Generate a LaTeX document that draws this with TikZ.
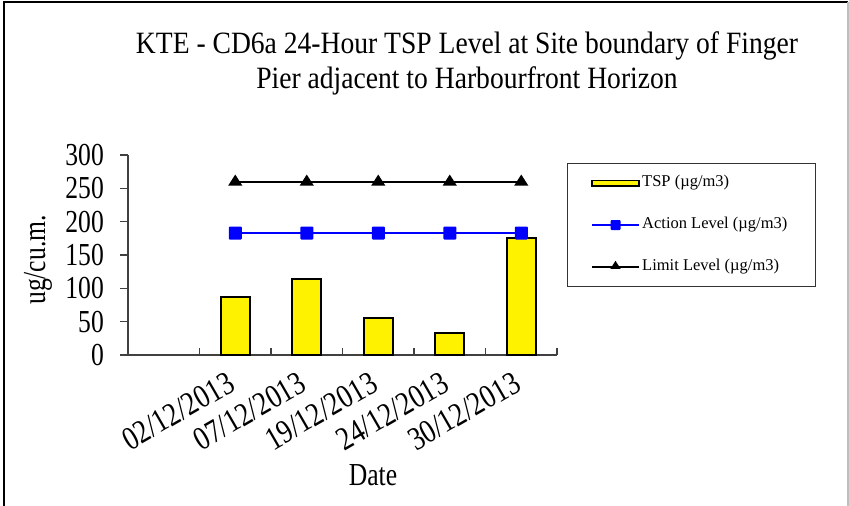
\documentclass[tikz,border=0pt]{standalone}
\usepackage{fontspec}
\usetikzlibrary{shapes.geometric}
\setmainfont{Liberation Serif}
\newfontfamily\cfont{Liberation Serif}[FakeStretch=0.8]
\newfontfamily\dfont{Liberation Serif}[FakeStretch=0.82]
\newfontfamily\tfont{Liberation Serif}[FakeStretch=0.89]
\begin{document}
\begin{tikzpicture}[x=1pt,y=-1pt,
  axisline/.style={draw=black!75,line width=1.3pt},
  bar/.style={draw=black,line width=2pt,fill=yellow},
  limline/.style={draw=black,line width=2pt},
  actline/.style={draw=blue,line width=2pt},
  sqmark/.style={fill=blue,minimum size=13pt,inner sep=0pt,rounded corners=1pt},
  trimark/.style={fill=black,isosceles triangle,isosceles triangle apex angle=65,shape border rotate=90,minimum height=11pt,inner sep=0pt},
  ticklab/.style={font=\cfont\fontsize{32}{32}\selectfont,anchor=east,inner sep=0pt},
  datelab/.style={font=\dfont\fontsize{33}{33}\selectfont,anchor=north east,rotate=30,inner sep=1pt},
  legtext/.style={font=\fontsize{16.5}{17}\selectfont,anchor=west,inner sep=0pt},
]
\useasboundingbox (0,0) rectangle (849,506);
\fill[white] (0,0) rectangle (849,506);
% frame
\draw[black,line width=2pt] (4,506) -- (4,2) -- (848,2);
\draw[black!25,line width=1.5pt] (848,2) -- (848,506);
% title
\node[font=\tfont\fontsize{31}{35}\selectfont,align=center] (title) at (467,63)
  {KTE - CD6a 24-Hour TSP Level at Site boundary of Finger\\Pier adjacent to Harbourfront Horizon};
% y axis
\coordinate (ytop) at (128,155);
\coordinate (orig) at (128,355);
\coordinate (xend) at (557,355);
\coordinate (xstart) at (120,355);
\draw[axisline] (ytop) -- (orig);
\draw[axisline] (xstart) -- (xend);
\foreach \v in {0,50,...,300}{
  \draw[axisline] (120,{355-\v*2/3}) -- (128,{355-\v*2/3});
  \node[ticklab] (yl\v) at (104,{355-\v*2/3}) {\v};
}
\foreach \k in {1,...,6}{
  \draw[axisline] ({128+71.5*\k},355) -- ({128+71.5*\k},348);
}
\node[font=\cfont\fontsize{32}{32}\selectfont,rotate=90] (ylab) at (38,260) {ug/cu.m.};
% bars
\foreach \i/\v in {1/87,2/114,3/55,4/33,5/176}{
  \draw[bar] ({128+71.5*(\i+0.5)-14.5},355) rectangle ({128+71.5*(\i+0.5)+14.5},{355-\v*2/3});
}
% limit & action levels
\foreach \i in {1,...,5}{
  \coordinate (lc\i) at ({128+71.5*(\i+0.5)},{355-260*2/3});
  \coordinate (ac\i) at ({128+71.5*(\i+0.5)},{355-183*2/3});
}
\draw[limline] (lc1) -- (lc2) -- (lc3) -- (lc4) -- (lc5);
\draw[actline] (ac1) -- (ac2) -- (ac3) -- (ac4) -- (ac5);
\foreach \i in {1,...,5}{
  \node[trimark] (l\i) at (lc\i) {};
  \node[sqmark] (a\i) at (ac\i) {};
}
% date labels
\foreach \i/\d in {1/{02/12/2013},2/{07/12/2013},3/{19/12/2013},4/{24/12/2013},5/{30/12/2013}}{
  \node[datelab] (d\i) at ({128+71.5*(\i+0.5)-9},369) {\d};
}
\node[font=\cfont\fontsize{32}{32}\selectfont] (xlab) at (373,475) {Date};
% legend
\node[draw=black!80,line width=1pt,minimum width=248pt,minimum height=123pt,anchor=north west,inner sep=0pt] (leg) at (567,163) {};
\draw[draw=black,line width=1.5pt,fill=yellow] (592,180.5) rectangle (639,186);
\node[legtext] (t1) at (642,183) {TSP (µg/m3)};
\coordinate (s2a) at (592,225); \coordinate (s2b) at (639,225);
\draw[actline] (s2a) -- (s2b);
\node[sqmark,minimum size=10pt] (m2) at (615.5,225) {};
\node[legtext] (t2) at (642,225) {Action Level (µg/m3)};
\coordinate (s3a) at (592,267); \coordinate (s3b) at (639,267);
\draw[limline] (s3a) -- (s3b);
\node[trimark,minimum height=8pt] (m3) at (615.5,266) {};
\node[legtext] (t3) at (642,267) {Limit Level (µg/m3)};
\end{tikzpicture}
\end{document}
